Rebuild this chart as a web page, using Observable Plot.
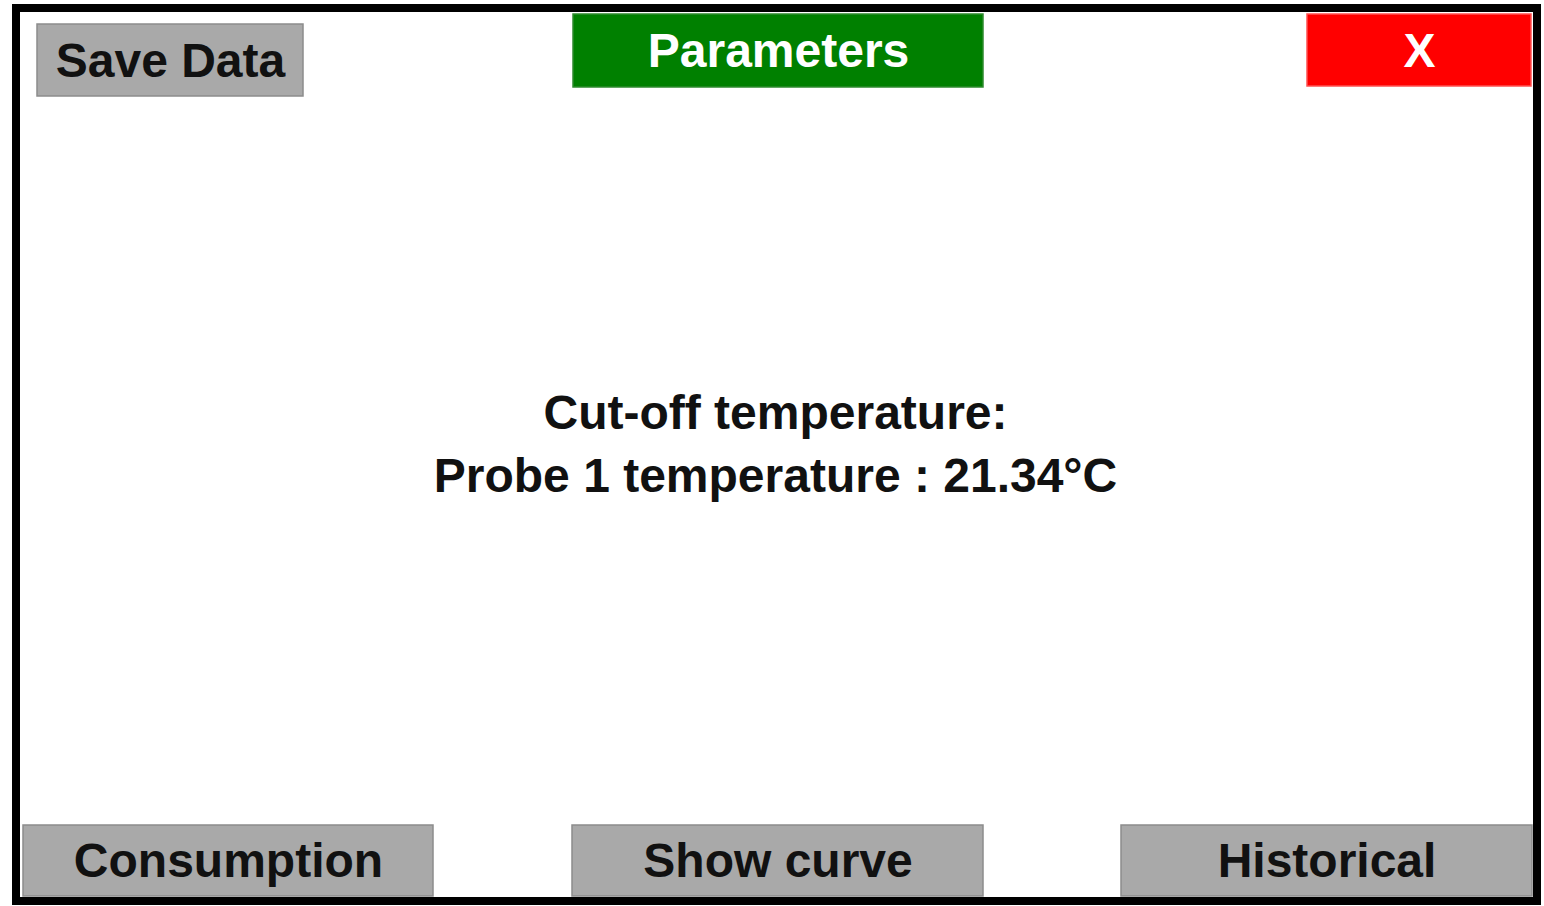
<!DOCTYPE html>
<html>
<head>
<meta charset="utf-8">
<script src="https://cdn.jsdelivr.net/npm/d3@7"></script>
<script src="https://cdn.jsdelivr.net/npm/@observablehq/plot@0.6"></script>
<style>
  html, body { margin: 0; padding: 0; background: #ffffff; }
  #chart svg { display: block; }
</style>
</head>
<body>
<div id="chart"></div>
<script>
// Buttons of the panel
const buttonLabels = ["Save Data", "Parameters", "X", "Consumption", "Show curve", "Historical"];
const buttonLeft   = [37, 573, 1307, 23, 572, 1121];
const buttonRight  = [303, 983, 1531, 433, 983, 1532];
const buttonTop    = [24, 14, 14, 825, 825, 825];
const buttonBottom = [96, 87, 86, 896, 896, 896];
const buttonKind   = ["gray", "green", "red", "gray", "gray", "gray"];

// Central message lines
const messageLines = ["Cut-off temperature:", "Probe 1 temperature : 21.34°C"];
const messageY     = [413, 476];

const W = 1544, H = 906;
const fills  = {gray: "#a9a9a9", green: "#008000", red: "#ff0000"};
const inks   = {gray: "#111111", green: "#ffffff", red: "#ffffff"};
const edges  = {gray: "#8c8c8c", green: "#2e8b2e", red: "#ff5050"};

const buttons = buttonLabels.map((label, i) => ({
  label, x1: buttonLeft[i], x2: buttonRight[i], y1: buttonTop[i], y2: buttonBottom[i], kind: buttonKind[i]
}));
const messages = messageLines.map((t, i) => ({t, y: messageY[i]}));
const frame = [{x1: 16, x2: 1537, y1: 8, y2: 901}];

const plot = Plot.plot({
  width: W, height: H,
  margin: 0,
  x: {domain: [0, W], range: [0, W], axis: null},
  y: {domain: [0, H], range: [0, H], axis: null},
  style: {fontFamily: "'Liberation Sans', Arial, sans-serif", background: "#ffffff"},
  marks: [
    Plot.rect(frame, {x1: "x1", x2: "x2", y1: "y1", y2: "y2", fill: "none", stroke: "#000000", strokeWidth: 8}),
    Plot.rect(buttons, {x1: "x1", x2: "x2", y1: "y1", y2: "y2",
      fill: d => fills[d.kind], stroke: d => edges[d.kind], strokeWidth: 1.5}),
    Plot.text(buttons, {x: d => (d.x1 + d.x2) / 2, y: d => (d.y1 + d.y2) / 2 + 1, text: "label",
      fill: d => inks[d.kind], fontSize: 48, fontWeight: "bold", textAnchor: "middle", lineAnchor: "middle"}),
    Plot.text(messages, {x: 775, y: "y", text: "t", fill: "#111111", fontSize: 48, fontWeight: "bold",
      textAnchor: "middle", lineAnchor: "middle"})
  ]
});
document.getElementById("chart").appendChild(plot);
</script>
</body>
</html>
